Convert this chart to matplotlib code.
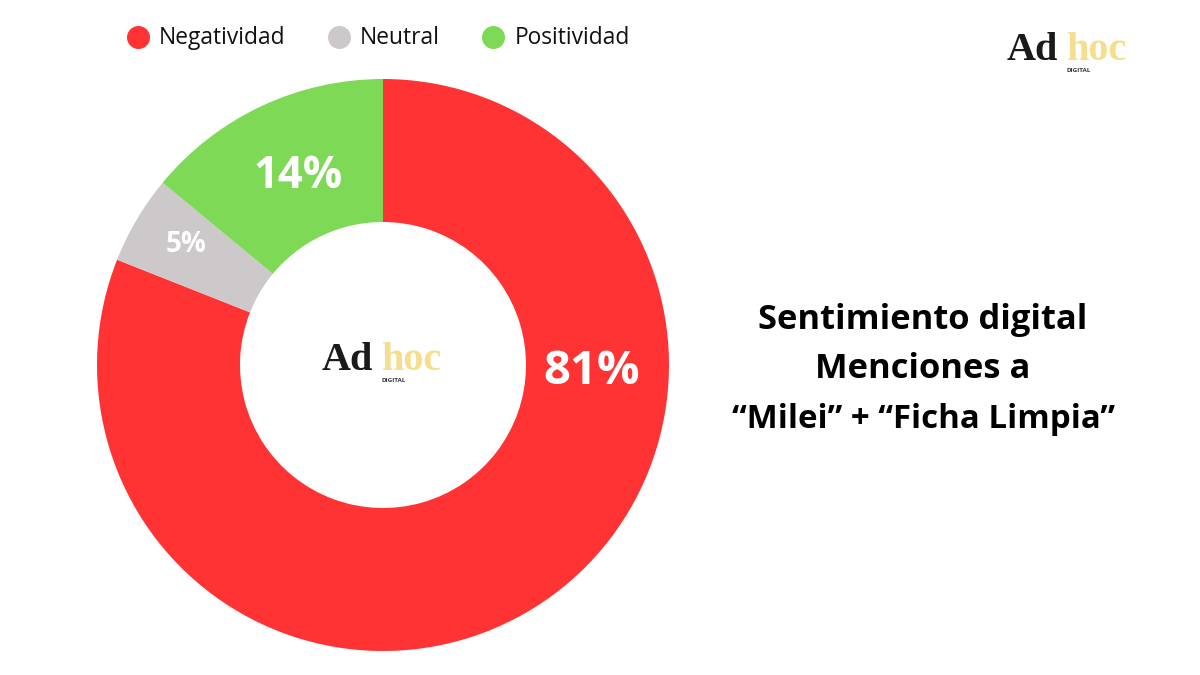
import matplotlib
matplotlib.use('Agg')
import matplotlib.pyplot as plt

labels = ['Negatividad', 'Neutral', 'Positividad']
values = [81, 5, 14]
colors = ['#FF3333', '#CDC9CA', '#7ED957']
title_lines = ['Sentimiento digital', 'Menciones a', '“Milei” + “Ficha Limpia”']

plt.rcParams['font.family'] = ['Open Sans', 'DejaVu Sans']

fig = plt.figure(figsize=(12, 6.75), dpi=100)
# axes in pixel units of the picture, y measured from the bottom
ax = fig.add_axes([0, 0, 1, 1])

ax.pie(values, colors=colors, startangle=90, counterclock=False,
       center=(383, 675 - 365), radius=286,
       wedgeprops=dict(width=143, linewidth=0))
ax.set_xlim(0, 1200)
ax.set_ylim(0, 675)
ax.set_aspect('equal')
ax.axis('off')

# labels on the ring
ax.text(592, 675 - 371, '81%', color='white', fontsize=34, fontweight='bold', ha='center', va='center')
ax.text(186, 675 - 245, '5%', color='white', fontsize=20, fontweight='bold', ha='center', va='center')
ax.text(298, 675 - 177, '14%', color='white', fontsize=31.5, fontweight='bold', ha='center', va='center')

# legend row
legend_x = [138, 339, 493]
text_x = [159, 360, 515]
for i in range(3):
    ax.scatter(legend_x[i], 675 - 37, s=274, color=colors[i], linewidths=0)
    ax.text(text_x[i], 675 - 38, labels[i], fontsize=16.4, color='#111111', ha='left', va='center')

# title on the right
title_y = [320, 369, 419]
title_size = [24.8, 24.8, 23.8]
for line, y, size in zip(title_lines, title_y, title_size):
    ax.text(923, 675 - y, line, fontsize=size, fontweight='bold', color='black', ha='center', va='center')


def logo(x, y):
    ax.text(x, 675 - y, 'Ad', family='Liberation Serif', fontsize=29, fontweight='bold', color='#1a1a1a',
            ha='left', va='baseline')
    ax.text(x + 60, 675 - y, 'hoc', family='Liberation Serif', fontsize=29, fontweight='bold',
            color='#F5DF8E', ha='left', va='baseline')
    ax.text(x + 72, 675 - y - 10, 'DIGITAL', fontsize=4.5, fontweight='bold', color='#333333',
            ha='center', va='center')


logo(1007, 60)
logo(322, 370)

fig.savefig('out.png', dpi=100)
